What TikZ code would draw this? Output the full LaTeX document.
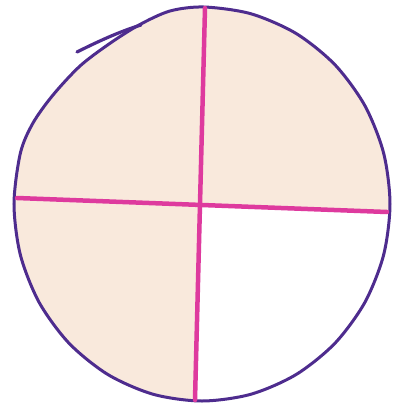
\documentclass[tikz,border=0pt]{standalone}
\usepackage{tikz}
\usetikzlibrary{calc}
\definecolor{rimpurple}{HTML}{4E2C8E}
\definecolor{crossmagenta}{HTML}{DE3A9E}
\definecolor{crayon}{HTML}{F9E9DC}
\newcommand{\rimpath}{plot[smooth cycle] coordinates {(390,204) (383.6,153) (364.8,105.5) (334.9,64.7) (296,33.4) (250.7,13.7) (204,7) (170,11) (139,25) (109,44) (80,66) (53,95) (33,123) (20.4,153) (14,204) (20.4,255) (39.2,302.5) (69.1,343.3) (108,374.6) (153.3,394.3) (202,401) (250.7,394.3) (296,374.6) (334.9,343.3) (364.8,302.5) (383.6,255)}}

\begin{document}
\begin{tikzpicture}[x=1pt,y=-1pt,line cap=round]
\useasboundingbox (0,0) rectangle (398,408);
\coordinate (top) at (205,8);
\coordinate (bottom) at (195,400);
\coordinate (left) at (17,198);
\coordinate (right) at (387,212);
\coordinate (mid) at (200,205);
% shaded disc, bottom right quarter left blank
\begin{scope}
  \clip \rimpath;
  \fill[crayon] (0,0) rectangle (398,408);
  \fill[white] (mid) -- ($(mid)!1.3!(right)$) -- (398,408) -- ($(mid)!1.3!(bottom)$) -- cycle;
\end{scope}
\draw[rimpurple,line width=3pt] \rimpath;
\draw[rimpurple,line width=3.2pt] (77,52) .. controls (95,43) and (118,32) .. (141,25);
\draw[crossmagenta,line width=4.5pt] (top) -- (bottom);
\draw[crossmagenta,line width=4.5pt] (left) -- (right);
\end{tikzpicture}
\end{document}
